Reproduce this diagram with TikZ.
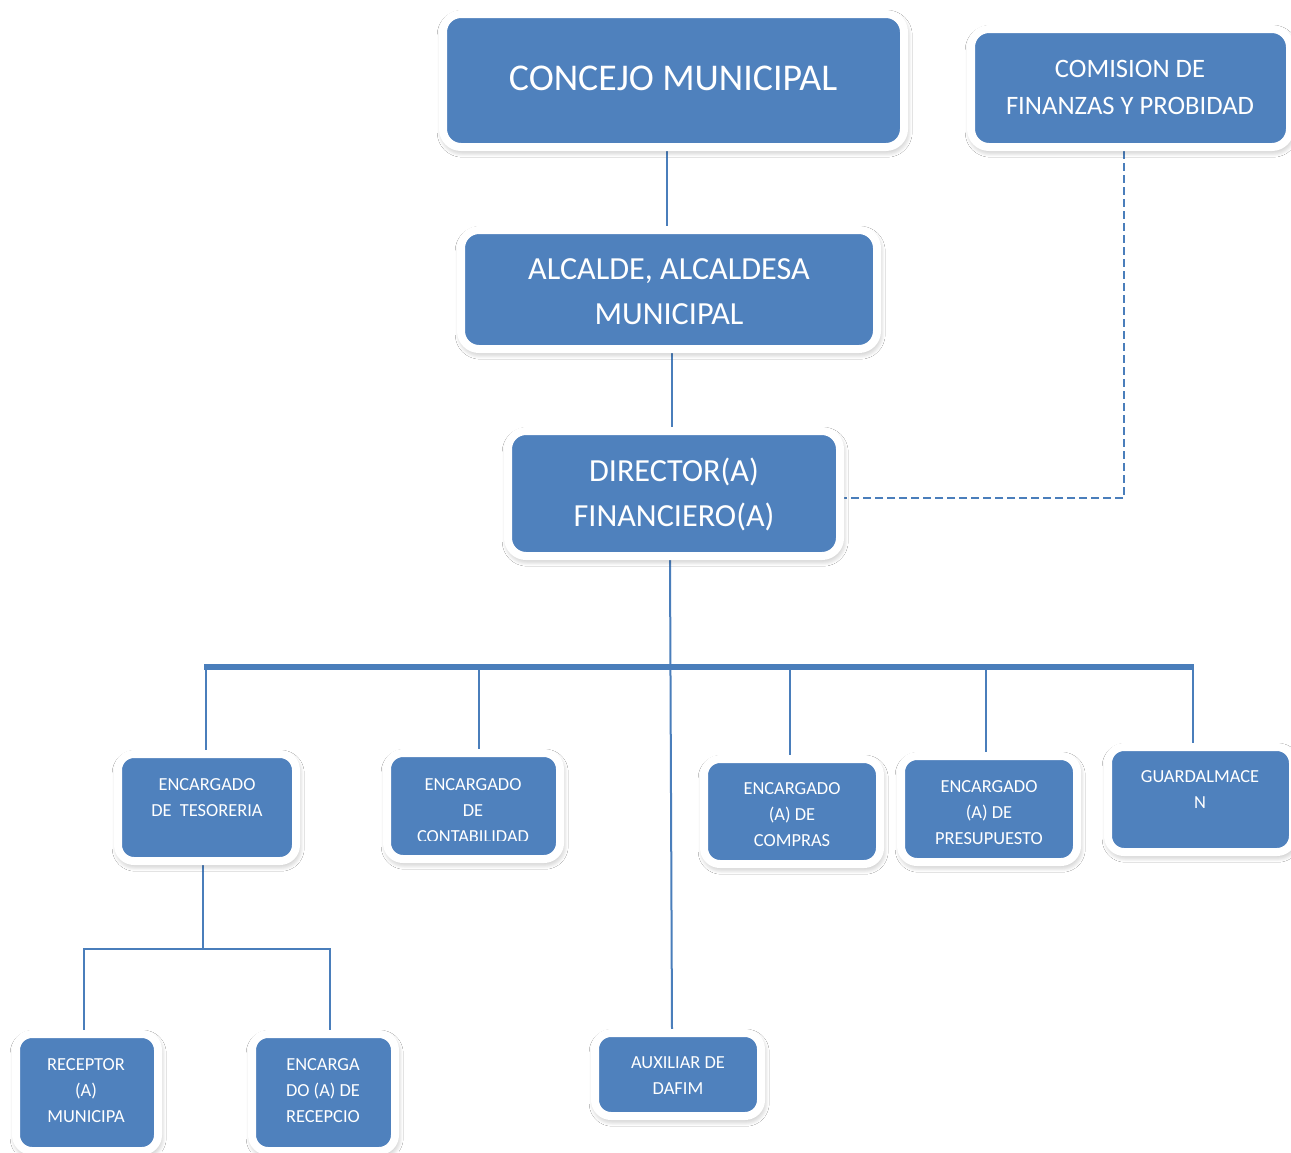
\documentclass[tikz,border=0pt]{standalone}
\usepackage{fontspec}
\setmainfont{Carlito}
\usetikzlibrary{shadows.blur,backgrounds}
\definecolor{orgblue}{HTML}{4F81BD}
\definecolor{linkblue}{HTML}{4A7EBB}
% \orgbox[corner radius]{name}{x1}{y1}{x2}{y2}: blue panel whose blue face spans x1..x2, y1..y2
\newcommand\orgbox[6][8pt]{%
  \node[box=#1, minimum width={(#5-#3)*0.5pt+4pt}, minimum height={(#6-#4)*0.5pt+4pt}]
    (#2) at ({(#3+#5)/2},{(#4+#6)/2}) {};}
\begin{document}
\begin{tikzpicture}[x=0.5pt,y=-0.5pt,
  box/.style={fill=orgblue, draw=white, line width=4pt, rounded corners=#1, inner sep=0pt,
    blur shadow={shadow xshift=0.6pt, shadow yshift=-1.6pt, shadow opacity=38,
      shadow blur steps=10, shadow blur radius=3.5pt}},
  box/.default=8pt,
  lbl/.style={text=white, align=center, inner sep=0pt},
  bigtxt/.style={lbl, font=\fontsize{18.9}{22}\selectfont},
  midtxt/.style={lbl, font=\fontsize{16.1}{22.5}\selectfont},
  comtxt/.style={lbl, font=\fontsize{13.3}{18.5}\selectfont},
  smalltxt/.style={lbl, font=\fontsize{9.2}{13}\selectfont},
  conn/.style={draw=linkblue, line width=1pt},
  busline/.style={draw=linkblue, line width=2.6pt},
  dashconn/.style={draw=linkblue, line width=1pt, dash pattern=on 4pt off 2pt}]

\useasboundingbox (0,0) rectangle (1291,1152);

% panels
\orgbox[9pt]{conc}{447}{18}{900}{143}
\orgbox[9pt]{com}{975}{33}{1286}{143}
\orgbox[9pt]{alc}{465}{234}{873}{345}
\orgbox[9pt]{dir}{512}{435}{836}{552}
\orgbox{tes}{122}{758}{292}{857}
\orgbox{cont}{391}{757}{556}{855}
\orgbox{comp}{708}{763}{876}{860}
\orgbox{pres}{905}{760}{1073}{858}
\orgbox{guard}{1112}{751}{1289}{848}
\orgbox{rec}{20}{1038}{154}{1147}
\orgbox{recep}{256}{1038}{391}{1147}
\orgbox{aux}{599}{1037}{757}{1112}

% labels
\node[bigtxt] (conc-t) at (673,78) {CONCEJO MUNICIPAL};
\node[comtxt] (com-t) at (1130,87) {COMISION DE\\FINANZAS Y PROBIDAD};
\node[midtxt] (alc-t) at (669,292) {ALCALDE, ALCALDESA\\MUNICIPAL};
\node[midtxt] (dir-t) at (674,494) {DIRECTOR(A)\\FINANCIERO(A)};
\node[smalltxt] (tes-t) at (207,798) {ENCARGADO\\DE\ \ TESORERIA};
\begin{scope}
  \clip (391,757) rectangle (556,840);
  \node[smalltxt] (cont-t) at (473,811) {ENCARGADO\\DE\\CONTABILIDAD};
\end{scope}
\node[smalltxt] (comp-t) at (792,815) {ENCARGADO\\(A) DE\\COMPRAS};
\node[smalltxt] (pres-t) at (989,813) {ENCARGADO\\(A) DE\\PRESUPUESTO};
\node[smalltxt] (guard-t) at (1200,790) {GUARDALMACE\\N};
\node[smalltxt] (rec-t) at (86,1091) {RECEPTOR\\(A)\\MUNICIPA};
\node[smalltxt] (recep-t) at (323,1091) {ENCARGA\\DO (A) DE\\RECEPCIO};
\node[smalltxt] (aux-t) at (678,1076) {AUXILIAR DE\\DAFIM};

% junction points of the distribution bus
\coordinate (busL) at (204,667);
\coordinate (busR) at (1194,667);
\coordinate (tesJ) at (203,949);

\begin{pgfonlayer}{background}
  \fill[white] (0,0) rectangle (1291,1152);
  % chain of command
  \draw[conn] ([xshift=-3.25pt]conc.south) -- ([xshift=-3.25pt]conc.south |- alc.north);
  \draw[conn] ([xshift=1.5pt]alc.south) -- ([xshift=1.5pt]alc.south |- dir.north);
  \draw[conn] ([xshift=-2pt]dir.south) -- ([xshift=-3pt]aux.north);
  % advisory link
  \draw[dashconn] ([xshift=-3.25pt]com.south) |- ([yshift=-2.25pt]dir.east);
  % bus and drops
  \draw[busline] (busL) -- (busR);
  \draw[conn] ([xshift=-0.5pt]tes.north |- busL) -- ([xshift=-0.5pt]tes.north);
  \draw[conn] ([xshift=2.75pt]cont.north |- busL) -- ([xshift=2.75pt]cont.north);
  \draw[conn] ([xshift=-1pt]comp.north |- busL) -- ([xshift=-1pt]comp.north);
  \draw[conn] ([xshift=-1.5pt]pres.north |- busL) -- ([xshift=-1.5pt]pres.north);
  \draw[conn] ([xshift=-3.75pt]guard.north |- busR) -- ([xshift=-3.75pt]guard.north);
  % treasury branch
  \draw[conn] ([xshift=-2pt]tes.south) -- (tesJ);
  \draw[conn] ([xshift=-1.5pt]rec.north) -- ([xshift=-1.5pt]rec.north |- tesJ)
    -- ([xshift=3.25pt]recep.north |- tesJ) -- ([xshift=3.25pt]recep.north);
\end{pgfonlayer}
\end{tikzpicture}
\end{document}
